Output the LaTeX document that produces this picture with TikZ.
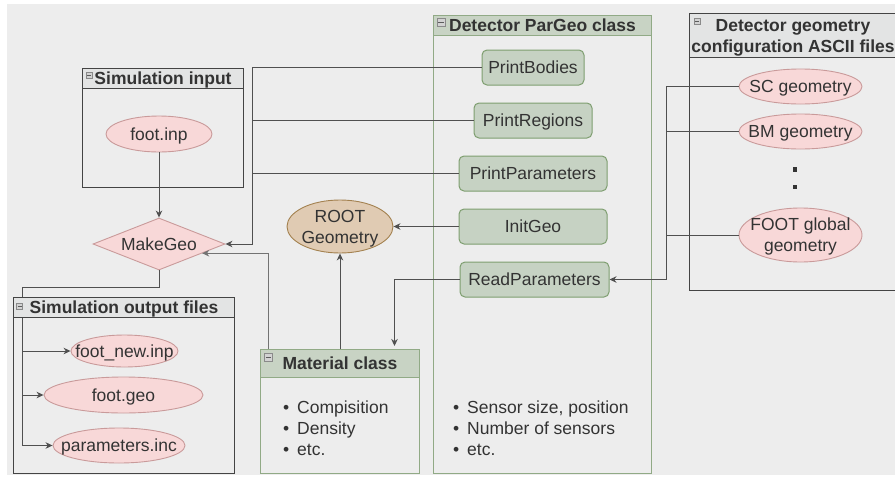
\documentclass[tikz,border=0pt]{standalone}
\usepackage{fontspec}
\setmainfont{Liberation Sans}
\usetikzlibrary{shapes.geometric,arrows.meta,calc}
\definecolor{bgc}{HTML}{EDEDED}
\definecolor{txt}{HTML}{333333}
\definecolor{grayb}{HTML}{444444}
\definecolor{grayhdr}{HTML}{E3E4E4}
\definecolor{greenb}{HTML}{91AA86}
\definecolor{greenhdr}{HTML}{C8D3C4}
\definecolor{greenfill}{HTML}{C6D2C3}
\definecolor{greenbox}{HTML}{7E9E70}
\definecolor{pinkfill}{HTML}{F8D8D8}
\definecolor{pinkb}{HTML}{C99A9A}
\definecolor{rootfill}{HTML}{E0CBB3}
\definecolor{rootb}{HTML}{A3814F}
\definecolor{conn}{HTML}{505050}
\definecolor{icf}{HTML}{D2D2D2}
\definecolor{icb}{HTML}{8A8A8A}
\begin{document}
\begin{tikzpicture}[x=1pt,y=-1pt,
  font=\fontsize{17.5}{21}\selectfont, text=txt,
  container/.style={draw, line width=1pt, inner sep=0pt, anchor=north west},
  hdr/.style={draw, line width=1pt, inner sep=0pt, anchor=north west, font=\fontsize{17.5}{21}\selectfont\bfseries, text depth=0pt, align=center},
  grayhdrbox/.style={hdr, draw=grayb, fill=grayhdr},
  greenhdrbox/.style={hdr, draw=greenb, fill=greenhdr},
  fnbox/.style={draw=greenbox, fill=greenfill, rounded corners=5pt, line width=1pt, minimum height=35pt, inner sep=0pt, text height=12.6pt, text depth=0pt},
  pinkell/.style={ellipse, draw=pinkb, fill=pinkfill, line width=0.9pt, inner sep=0pt},
  lbl/.style={inner sep=0pt, text depth=0pt, align=center},
  bul/.style={inner sep=0pt, anchor=base west},
  line/.style={draw=conn, line width=1pt},
  arr/.style={line, -{Stealth[length=7pt,width=6.5pt,inset=2.2pt]}},
  cicon/.pic={\draw[draw=icb, fill=icf, line width=0.6pt] (-3,-3) rectangle (3,3);
              \draw[draw=txt!80, line width=0.9pt] (-2,0) -- (2,0);}
]
\useasboundingbox (0,0) rectangle (895,477);
\clip (0,0) rectangle (895,477);
\fill[bgc] (7,4) rectangle (895,475);

% containers (bodies)
\node[container, draw=grayb, minimum width=161pt, minimum height=119pt] (simin) at (82,68) {};
\node[container, draw=grayb, minimum width=221pt, minimum height=176pt] (simout) at (13,297) {};
\node[container, draw=greenb, minimum width=218pt, minimum height=458pt] (pargeo) at (433,15) {};
\node[container, draw=greenb, minimum width=159pt, minimum height=124pt] (mat) at (260,349) {};
\node[container, draw=grayb, minimum width=207pt, minimum height=277pt] (detgeo) at (689,13) {};

% inner nodes
\node[fnbox, minimum width=102pt] (pb) at (533,67.5) {PrintBodies};
\node[fnbox, minimum width=118pt] (pr) at (533,120.5) {PrintRegions};
\node[fnbox, minimum width=148pt] (pp) at (533,173.5) {PrintParameters};
\node[fnbox, minimum width=148pt] (ig) at (533,226.5) {InitGeo};
\node[fnbox, minimum width=149pt] (rp) at (534.5,279.5) {ReadParameters};

\node[pinkell, minimum width=106pt, minimum height=36pt] (fi) at (159,134) {};
\node[lbl] (fiT) at (fi) {foot.inp};
\node[diamond, draw=pinkb, fill=pinkfill, line width=0.9pt, inner sep=0pt, minimum width=132pt, minimum height=52pt] (mg) at (159,244) {};
\node[lbl] (mgT) at (mg) {MakeGeo};

\node[pinkell, minimum width=107pt, minimum height=32pt] (fn) at (124.5,351) {};
\node[lbl] (fnT) at (fn) {foot\_new.inp};
\node[pinkell, minimum width=159pt, minimum height=36pt] (fgeo) at (123.5,395) {};
\node[lbl] (fgeoT) at (fgeo) {foot.geo};
\node[pinkell, minimum width=132pt, minimum height=35pt] (par) at (119,445.5) {};
\node[lbl] (parT) at (par) {parameters.inc};

\node[ellipse, draw=rootb, fill=rootfill, line width=0.9pt, inner sep=0pt, minimum width=106pt, minimum height=53pt] (root) at (340,226.5) {};
\node[lbl] (rootT) at (root) {ROOT\\Geometry};

\node[pinkell, minimum width=123pt, minimum height=35pt] (sc) at (800.5,86.5) {};
\node[lbl] (scT) at (sc) {SC geometry};
\node[pinkell, minimum width=123pt, minimum height=35pt] (bm) at (800.5,131.5) {};
\node[lbl] (bmT) at (bm) {BM geometry};
\node[pinkell, minimum width=123pt, minimum height=54pt] (fg) at (800.5,235) {};
\node[lbl] (fgT) at (fg) {FOOT global\\geometry};
\node[fill=txt, inner sep=0pt, minimum size=4.5pt] (dot1) at (795,169.5) {};
\node[fill=txt, inner sep=0pt, minimum size=4.5pt] (dot2) at (795,187) {};

% connectors (drawn before headers so headers cover them)
\coordinate (jA) at (252,244);
\draw[arr] (fi.south) -- (mg.north);
\draw[arr] (pb.west) -- (pb.west -| jA) -- (jA) -- (mg.east);
\draw[line] (pr.west) -- (pr.west -| jA);
\draw[line] (pp.west) -- (pp.west -| jA);

\coordinate (matIcon) at (268.5,354);
\draw[arr, draw=conn!80] (matIcon) |- ($(mg.east)!0.35!(mg.south)$);

\coordinate (jB) at (22,287);
\draw[line] (mg.south) |- (jB) -- (jB |- par.west);
\draw[arr] (jB |- fn.west) -- (fn.west);
\draw[arr] (jB |- fgeo.west) -- (fgeo.west);
\draw[arr] (jB |- par.west) -- (par.west);

\coordinate (jC) at (666,279.5);
\draw[arr] (sc.west) -| (jC) -- (rp.east);
\draw[line] (bm.west) -- (bm.west -| jC);
\draw[line] (fg.west) -- (fg.west -| jC);

\draw[arr] (ig.west) -- (root.east);

% headers
\node[grayhdrbox, minimum width=161pt, minimum height=20pt] (siminH) at (82,68) {Simulation input};
\node[grayhdrbox, minimum width=221pt, minimum height=20pt] (simoutH) at (13,297) {Simulation output files};
\node[greenhdrbox, minimum width=218pt, minimum height=20pt] (pargeoH) at (433,15) {Detector ParGeo class};
\node[greenhdrbox, minimum width=159pt, minimum height=28pt] (matH) at (260,349) {Material class};
\node[grayhdrbox, minimum width=207pt, minimum height=44pt] (detgeoH) at (689,13) {Detector geometry\\configuration ASCII files};

\draw[arr] (matH.north) -- (root.south);
\draw[arr, shorten >=3pt] (rp.west) -| ([xshift=54.5pt]matH.north);

% collapse icons
\pic at (89,75.5) {cicon};
\pic at (19.5,306) {cicon};
\pic[scale=1.33] at (441,22) {cicon};
\pic[scale=1.33] at (268.5,357.5) {cicon};
\pic at (697,21) {cicon};

% bullet lists
\node[bul] (m1) at (283,413) {\makebox[14pt][l]{•}Compisition};
\node[bul] (m2) at (283,434) {\makebox[14pt][l]{•}Density};
\node[bul] (m3) at (283,455) {\makebox[14pt][l]{•}etc.};
\node[bul] (g1) at (453,413) {\makebox[14pt][l]{•}Sensor size, position};
\node[bul] (g2) at (453,434) {\makebox[14pt][l]{•}Number of sensors};
\node[bul] (g3) at (453,455) {\makebox[14pt][l]{•}etc.};
\end{tikzpicture}
\end{document}
